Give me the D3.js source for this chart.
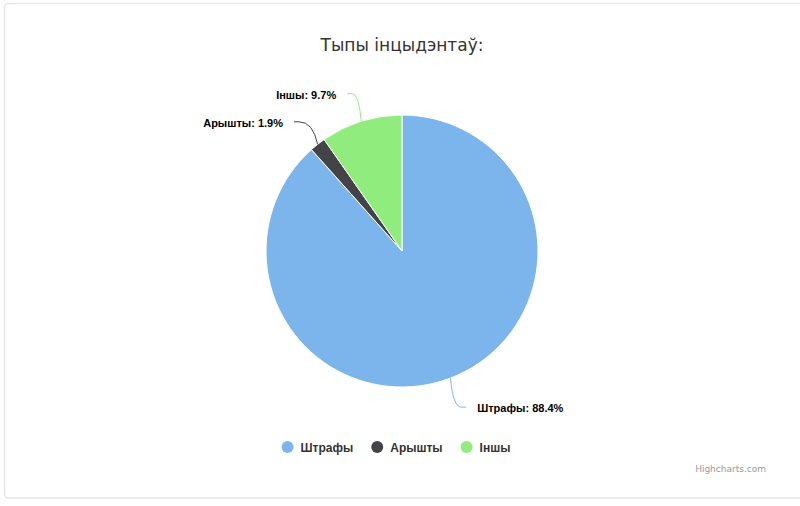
<!DOCTYPE html>
<html>
<head>
<meta charset="utf-8">
<script src="https://cdn.jsdelivr.net/npm/d3@7"></script>
<style>
  html, body { margin: 0; padding: 0; background: #fff; }
  svg { display: block; }
  text { font-family: "Liberation Sans", Arial, sans-serif; }
  text.dv { font-family: "DejaVu Sans", sans-serif; }
</style>
</head>
<body>
<svg id="chart" width="800" height="506"></svg>
<script>
const title = "Тыпы інцыдэнтаў:";
const categories = ["Штрафы", "Арышты", "Іншы"];
const values = [88.4, 1.9, 9.7];
const credits = "Highcharts.com";

const palette = ["#7cb5ec", "#434348", "#90ed7d"];
const W = 800, H = 506;
const cx = 402, cy = 251, R = 136, labelDist = 30;

const svg = d3.select("#chart");

// frame
svg.append("rect")
  .attr("x", 4.5).attr("y", 3.5).attr("width", W + 10).attr("height", 494.5)
  .attr("rx", 4).attr("fill", "#fff").attr("stroke", "#e6e6e6").attr("stroke-width", 1.5);

// title
svg.append("text")
  .attr("class", "dv")
  .attr("x", 402).attr("y", 51)
  .attr("text-anchor", "middle")
  .attr("font-size", 17).attr("fill", "#333333")
  .text(title);

const data = categories.map((c, i) => ({ name: c, value: values[i], color: palette[i] }));

const pie = d3.pie().value(d => d.value).sort(null).startAngle(0).endAngle(2 * Math.PI);
const arcs = pie(data);
const arc = d3.arc().innerRadius(0).outerRadius(R);

const g = svg.append("g").attr("transform", `translate(${cx},${cy})`);
g.selectAll("path.slice").data(arcs).enter().append("path")
  .attr("class", "slice")
  .attr("d", arc)
  .attr("fill", d => d.data.color)
  .attr("stroke", "#ffffff").attr("stroke-width", 1).attr("stroke-linejoin", "round");

// data labels with connectors
const labelG = svg.append("g");
arcs.forEach(a => {
  const mid = (a.startAngle + a.endAngle) / 2;
  const sx = Math.sin(mid), sy = -Math.cos(mid);
  const ex = cx + R * sx, ey = cy + R * sy;
  const lx = cx + (R + labelDist) * sx, ly = cy + (R + labelDist) * sy + 1;
  const dir = sx >= 0 ? 1 : -1;
  const endX = lx + dir * 5;
  const ctrlX = ex + (lx - ex) * 0.25, ctrlY = ly;
  labelG.append("path")
    .attr("d", `M${endX},${ly} L${lx},${ly} Q${ctrlX},${ctrlY} ${ex},${ey}`)
    .attr("fill", "none")
    .attr("stroke", a.data.color)
    .attr("stroke-width", 1);
  labelG.append("text")
    .attr("x", lx + dir * 16)
    .attr("y", ly + 5)
    .attr("text-anchor", dir > 0 ? "start" : "end")
    .attr("font-size", 11).attr("font-weight", "bold")
    .attr("fill", "#000000")
    .attr("stroke", "#ffffff").attr("stroke-width", 2).attr("paint-order", "stroke")
    .text(`${a.data.name}: ${a.data.value.toFixed(1)}%`);
});

// legend
const legend = svg.append("g");
const items = [];
data.forEach((d, i) => {
  const it = legend.append("g");
  it.append("circle").attr("cx", 6).attr("cy", 0).attr("r", 6).attr("fill", d.color);
  const t = it.append("text").attr("x", 19).attr("y", 4.5)
    .attr("font-size", 12).attr("font-weight", "bold").attr("fill", "#333333")
    .text(d.name);
  const w = 19 + t.node().getComputedTextLength();
  items.push({ it, w });
});
const gap = 18;
const total = d3.sum(items, d => d.w) + gap * (items.length - 1);
let px = 396 - total / 2;
items.forEach(o => {
  o.it.attr("transform", `translate(${px},447)`);
  px += o.w + gap;
});

// credits
svg.append("text")
  .attr("class", "dv")
  .attr("x", 766).attr("y", 472)
  .attr("text-anchor", "end")
  .attr("font-size", 9).attr("fill", "#999999")
  .text(credits);
</script>
</body>
</html>
